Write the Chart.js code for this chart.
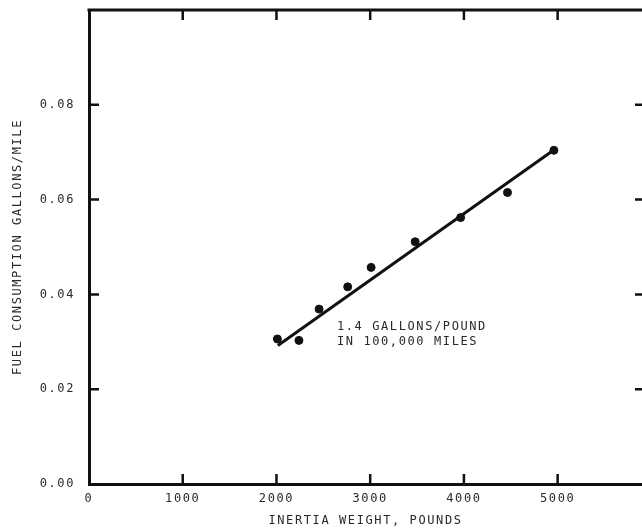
<!DOCTYPE html>
<html>
<head>
<meta charset="utf-8">
<script src="https://cdn.jsdelivr.net/npm/chart.js@4/dist/chart.umd.min.js"></script>
<style>
  html, body { margin: 0; padding: 0; background: #fff; overflow: hidden; }
  #wrap { width: 642px; height: 528px; }
</style>
</head>
<body>
<div id="wrap"><canvas id="myChart"></canvas></div>
<script>
// values
const weights = [2010, 2240, 2455, 2760, 3010, 3480, 3965, 4465, 4960];
const fuelUse = [0.0306, 0.0303, 0.0369, 0.0416, 0.0457, 0.0511, 0.0562, 0.0615, 0.0704];
const fitWeights = [2015, 4955];
const fitFuel = [0.0292, 0.0704];
const xTickValues = [0, 1000, 2000, 3000, 4000, 5000];
const yTickValues = [0, 0.02, 0.04, 0.06, 0.08, 0.10];
const noteLines = ['1.4 GALLONS/POUND', 'IN 100,000 MILES'];
const noteAt = { x: 2645, y: 0.0332 };

const ink = '#111';
const textInk = '#2a2a2a';
const mono = "'DejaVu Sans Mono', monospace";

const noPad = s => {
  s.paddingTop = 0; s.paddingBottom = 0; s.paddingLeft = 0; s.paddingRight = 0;
};

// inward ticks on all four sides + top border + note text
const framePlugin = {
  id: 'frame',
  beforeDraw(chart) {
    chart.ctx.letterSpacing = '1.6px';
  },
  afterDraw(chart) {
    const { ctx, chartArea: { left, right, top, bottom }, scales: { x, y } } = chart;
    ctx.save();
    ctx.strokeStyle = ink;
    ctx.lineCap = 'butt';
    ctx.lineWidth = 3;
    ctx.beginPath();
    ctx.moveTo(left - 1.5, top);
    ctx.lineTo(right, top);
    ctx.stroke();

    ctx.lineWidth = 2.5;
    xTickValues.forEach(v => {
      if (v === 0) return;
      const px = x.getPixelForValue(v);
      ctx.beginPath();
      ctx.moveTo(px, bottom); ctx.lineTo(px, bottom - 10);
      ctx.moveTo(px, top); ctx.lineTo(px, top + 10);
      ctx.stroke();
    });
    yTickValues.forEach(v => {
      if (v === 0 || v > 0.09) return;
      const py = y.getPixelForValue(v);
      ctx.beginPath();
      ctx.moveTo(left, py); ctx.lineTo(left + 10, py);
      ctx.moveTo(right, py); ctx.lineTo(right - 7, py);
      ctx.stroke();
    });

    ctx.fillStyle = textInk;
    ctx.font = '12px ' + mono;
    ctx.letterSpacing = '1.6px';
    ctx.textAlign = 'left';
    ctx.textBaseline = 'middle';
    const nx = x.getPixelForValue(noteAt.x);
    const ny = y.getPixelForValue(noteAt.y);
    noteLines.forEach((line, i) => ctx.fillText(line, nx, ny + i * 15));
    ctx.restore();
  }
};

new Chart(document.getElementById('myChart'), {
  type: 'scatter',
  data: {
    datasets: [
      {
        data: weights.map((w, i) => ({ x: w, y: fuelUse[i] })),
        backgroundColor: ink,
        borderColor: ink,
        pointRadius: 4,
        pointHoverRadius: 4
      },
      {
        type: 'line',
        data: fitWeights.map((w, i) => ({ x: w, y: fitFuel[i] })),
        borderColor: ink,
        borderWidth: 3,
        pointRadius: 0,
        fill: false
      }
    ]
  },
  options: {
    responsive: true,
    maintainAspectRatio: false,
    animation: false,
    layout: { autoPadding: false, padding: { top: 10, right: 0, left: 0, bottom: 0 } },
    scales: {
      x: {
        type: 'linear',
        min: 0,
        max: 5900,
        afterBuildTicks: s => { s.ticks = xTickValues.map(v => ({ value: v })); },
        afterFit: s => { s.height = 44; noPad(s); },
        grid: { drawOnChartArea: false, drawTicks: false },
        border: { display: true, color: ink, width: 3 },
        ticks: {
          padding: 8,
          color: textInk,
          font: { family: mono, size: 12 },
          maxRotation: 0,
          autoSkip: false,
          callback: v => String(v)
        },
        title: {
          display: true,
          text: 'INERTIA WEIGHT, POUNDS',
          color: textInk,
          font: { family: mono, size: 12 },
          padding: { top: 0, bottom: 0 }
        }
      },
      y: {
        min: 0,
        max: 0.10,
        afterBuildTicks: s => { s.ticks = yTickValues.map(v => ({ value: v })); },
        afterFit: s => { s.width = 89; noPad(s); },
        grid: { drawOnChartArea: false, drawTicks: false },
        border: { display: true, color: ink, width: 3 },
        ticks: {
          padding: 14,
          color: textInk,
          font: { family: mono, size: 12 },
          callback: v => (v > 0.09 ? '' : v.toFixed(2))
        },
        title: {
          display: true,
          text: 'FUEL CONSUMPTION GALLONS/MILE',
          color: textInk,
          font: { family: mono, size: 12 },
          padding: { top: 11, bottom: 0 }
        }
      }
    },
    plugins: {
      legend: { display: false },
      tooltip: { enabled: false }
    }
  },
  plugins: [framePlugin]
});
</script>
</body>
</html>
